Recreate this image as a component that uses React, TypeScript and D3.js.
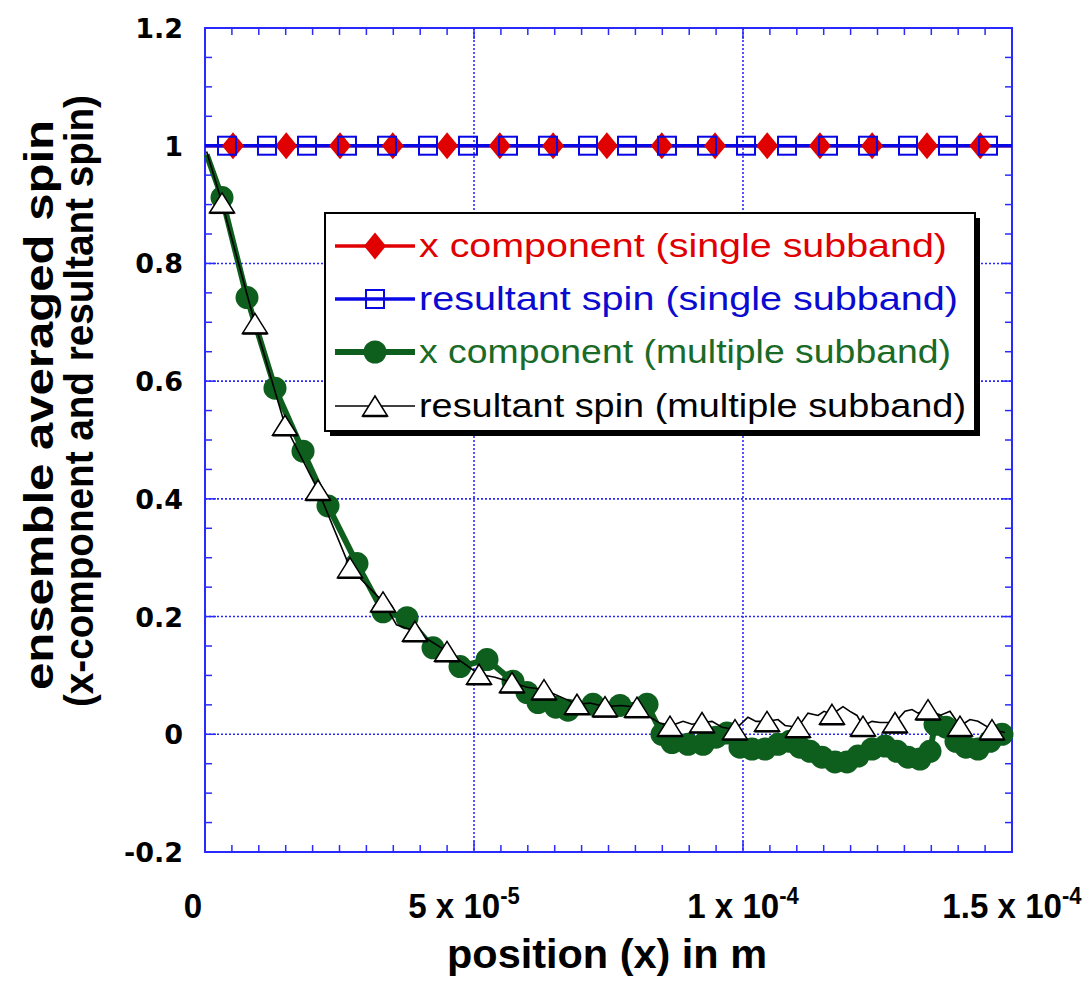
import React from "react";
import * as d3 from "d3";

// ---------- data (x in units of 1e-6 m) ----------
const xDomain = [0, 150];
const yDomain = [-0.2, 1.2];

const xMajorTicks = [0, 50, 100, 150];
const xTickMantissa = ["0", "5 x 10", "1 x 10", "1.5 x 10"];
const xTickExponent = ["", "-5", "-4", "-4"];
const yMajorTicks = [-0.2, 0, 0.2, 0.4, 0.6, 0.8, 1.0, 1.2];
const yTickLabels = ["-0.2", "0", "0.2", "0.4", "0.6", "0.8", "1", "1.2"];
const xGridValues = [50, 100];
const yGridValues = [0, 0.2, 0.4, 0.6, 0.8, 1.0];

// single subband: line spans whole range
const singleLineX = [0, 150];
const singleLineY = [1, 1];

// x component (single subband) – red diamonds
const redX = [5.2, 15.1, 25.1, 34.9, 45.0, 54.8, 64.7, 74.7, 84.9, 94.8, 104.5, 114.3, 124.0, 134.2, 144.1];
const redY = [1, 1, 1, 1, 1, 1, 1, 1, 1, 1, 1, 1, 1, 1, 1];

// resultant spin (single subband) – blue squares
const blueX = [4.09, 11.52, 18.96, 26.39, 33.83, 41.45, 48.88, 56.32, 63.75, 71.19, 78.44, 85.87, 93.31, 100.56, 108.18, 115.8, 123.23, 130.67, 138.1, 145.54];
const blueY = [1, 1, 1, 1, 1, 1, 1, 1, 1, 1, 1, 1, 1, 1, 1, 1, 1, 1, 1, 1];

// x component (multiple subband) – green
const greenX = [0.3, 3.16, 7.81, 13.01, 18.22, 22.86, 28.25, 33.09, 37.55, 42.38, 47.4, 52.42, 57.25, 59.85, 61.9, 65.2, 67.47, 72.12, 77.14, 82.16, 84.94, 86.8, 89.78, 92.57, 94.98, 97.03, 99.44, 101.67, 104.09, 106.51, 108.74, 110.59, 112.45, 114.68, 117.1, 119.33, 121.38, 123.98, 126.39, 128.62, 130.67, 132.9, 134.76, 135.69, 137.73, 139.59, 141.45, 143.68, 145.91, 148.14];
const greenY = [0.985, 0.912, 0.742, 0.588, 0.481, 0.388, 0.29, 0.208, 0.198, 0.147, 0.115, 0.127, 0.09, 0.071, 0.054, 0.046, 0.041, 0.051, 0.049, 0.051, 0.0, -0.014, -0.017, -0.017, -0.005, 0.002, -0.022, -0.025, -0.025, -0.017, -0.012, -0.022, -0.029, -0.039, -0.047, -0.047, -0.037, -0.025, -0.02, -0.029, -0.039, -0.042, -0.029, 0.017, 0.012, -0.012, -0.022, -0.025, -0.012, 0.0];

// resultant spin (multiple subband) – triangles (markers) and extra line points
const triX = [3.16, 9.29, 14.87, 21.0, 26.95, 33.09, 39.03, 44.98, 50.93, 57.06, 63.01, 69.14, 74.35, 80.3, 86.43, 92.38, 98.51, 104.46, 110.22, 116.54, 122.3, 128.25, 134.39, 140.33, 146.28];
const triY = [0.903, 0.698, 0.525, 0.415, 0.283, 0.225, 0.175, 0.141, 0.102, 0.088, 0.076, 0.051, 0.047, 0.046, 0.014, 0.02, 0.008, 0.022, 0.012, 0.034, 0.014, 0.02, 0.042, 0.014, 0.008];
const triLineX = [0.3, 35.6, 53.9, 59.85, 65.99, 71.56, 77.32, 82.71, 84.57, 88.85, 90.52, 94.24, 96.1, 100.93, 102.42, 106.51, 107.81, 112.08, 113.94, 115.06, 118.59, 119.89, 121.19, 123.98, 125.46, 130.11, 131.41, 132.53, 136.62, 138.48, 142.19, 143.68, 148.7];
const triLineY = [0.99, 0.186, 0.097, 0.08, 0.064, 0.053, 0.049, 0.029, 0.019, 0.022, 0.017, 0.022, 0.012, 0.029, 0.022, 0.025, 0.015, 0.036, 0.032, 0.039, 0.047, 0.039, 0.032, 0.022, 0.02, 0.039, 0.042, 0.036, 0.032, 0.039, 0.025, 0.022, 0.003];

const legendLabels = [
  "x component (single subband)",
  "resultant spin (single subband)",
  "x component (multiple subband)",
  "resultant spin (multiple subband)",
];

// ---------- styles ----------
const W = 1091;
const H = 982;
const plot = { left: 205, right: 1012, top: 28, bottom: 852 };
const RED = "#e00000";
const BLUE = "#0808e6";
const GREEN = "#0e5e1e";
const AXIS = "#2a2aff";
const NARROW = "'Liberation Sans Narrow','Arial Narrow','Liberation Sans',Arial,sans-serif";
const WIDE = "'DejaVu Sans',Verdana,sans-serif";
const legendColors = [RED, "#0a0ad0", "#1a6a28", "#000000"];
const legendTextLen = [528, 539, 532, 547];

const zip = (a: number[], b: number[]) => a.map((v, i) => [v, b[i]] as [number, number]);

const diamondPath = "M0,-13.5L11,0L0,13.5L-11,0Z";
const triPath = "M0,-10L12.5,10L-12.5,10Z";

function Marker({ kind, cx, cy }: { kind: string; cx: number; cy: number }) {
  if (kind === "diamond") return <path d={diamondPath} transform={`translate(${cx},${cy})`} fill={RED} />;
  if (kind === "square")
    return <rect x={cx - 9} y={cy - 9} width={18} height={18} fill="none" stroke={BLUE} strokeWidth={2} />;
  if (kind === "circle") return <circle cx={cx} cy={cy} r={11.5} fill={GREEN} />;
  return (
    <g transform={`translate(${cx},${cy})`}>
      <path d={triPath} fill="#fff" stroke="#000" strokeWidth={1.5} strokeLinejoin="miter" />
      <line x1={-12.5} x2={12.5} y1={10} y2={10} stroke="#000" strokeWidth={2.5} />
    </g>
  );
}

export default function App() {
  const x = d3.scaleLinear().domain(xDomain).range([plot.left, plot.right]);
  const y = d3.scaleLinear().domain(yDomain).range([plot.bottom, plot.top]);
  const line = d3
    .line<[number, number]>()
    .x((d) => x(d[0]))
    .y((d) => y(d[1]));

  const singleLine = zip(singleLineX, singleLineY);
  const greenPts = zip(greenX, greenY);
  const triPts = zip(triX, triY);
  const blackPts = [...triPts, ...zip(triLineX, triLineY)].sort((a, b) => a[0] - b[0]);

  const xMinor = d3.range(0, 150.001, 5);
  const yMinor = d3.range(-0.2, 1.2001, 0.05);
  const isMajorX = (v: number) => Math.abs(v / 50 - Math.round(v / 50)) < 1e-6;
  const isMajorY = (v: number) => Math.abs(v / 0.2 - Math.round(v / 0.2)) < 1e-6;

  const lg = { x: 325, y: 213, w: 650, h: 218 };
  const rowY = [246, 299, 352, 406];
  const rowKinds = ["diamond", "square", "circle", "triangle"];

  return (
    <svg
      width={W}
      height={H}
      style={{ position: "absolute", left: 0, top: 0, background: "#fff" }}
    >
      <rect x={0} y={0} width={W} height={H} fill="#fff" />
      {/* grid */}
      {xGridValues.map((v) => (
        <line key={"gx" + v} x1={x(v)} x2={x(v)} y1={plot.top} y2={plot.bottom} stroke={AXIS} strokeWidth={1.6} strokeDasharray="2,2" />
      ))}
      {yGridValues.map((v) => (
        <line key={"gy" + v} x1={plot.left} x2={plot.right} y1={y(v)} y2={y(v)} stroke={AXIS} strokeWidth={1.6} strokeDasharray="2,2" />
      ))}

      {/* frame and ticks */}
      <rect x={plot.left} y={plot.top} width={plot.right - plot.left} height={plot.bottom - plot.top} fill="none" stroke={AXIS} strokeWidth={2} />
      {xMinor.map((v) => {
        const len = isMajorX(v) ? 11 : 7;
        return (
          <g key={"tx" + v}>
            <line x1={x(v)} x2={x(v)} y1={plot.bottom} y2={plot.bottom - len} stroke={AXIS} strokeWidth={1.5} />
            <line x1={x(v)} x2={x(v)} y1={plot.top} y2={plot.top + len} stroke={AXIS} strokeWidth={1.5} />
          </g>
        );
      })}
      {yMinor.map((v) => {
        const len = isMajorY(v) ? 11 : 7;
        return (
          <g key={"ty" + v}>
            <line x1={plot.left} x2={plot.left + len} y1={y(v)} y2={y(v)} stroke={AXIS} strokeWidth={1.5} />
            <line x1={plot.right} x2={plot.right - len} y1={y(v)} y2={y(v)} stroke={AXIS} strokeWidth={1.5} />
          </g>
        );
      })}

      {/* multiple subband: green x component */}
      <path d={line(greenPts) || ""} fill="none" stroke={GREEN} strokeWidth={6} strokeLinejoin="round" />
      {greenPts.slice(1).map((d, i) => (
        <Marker key={"g" + i} kind="circle" cx={x(d[0])} cy={y(d[1])} />
      ))}
      {/* multiple subband: resultant spin */}
      <path d={line(blackPts) || ""} fill="none" stroke="#000" strokeWidth={1.6} />
      {triPts.map((d, i) => (
        <Marker key={"t" + i} kind="triangle" cx={x(d[0])} cy={y(d[1])} />
      ))}

      {/* single subband */}
      <path d={line(singleLine) || ""} fill="none" stroke={RED} strokeWidth={3.5} />
      <path d={line(singleLine) || ""} fill="none" stroke={BLUE} strokeWidth={3.5} />
      {zip(redX, redY).map((d, i) => (
        <Marker key={"r" + i} kind="diamond" cx={x(d[0])} cy={y(d[1])} />
      ))}
      {zip(blueX, blueY).map((d, i) => (
        <Marker key={"b" + i} kind="square" cx={x(d[0])} cy={y(d[1])} />
      ))}

      {/* y tick labels */}
      {yMajorTicks.map((v, i) => (
        <text key={"yl" + i} x={183} y={y(v) + 10} textAnchor="end" fontFamily={WIDE} fontWeight="bold" fontSize={27} fill="#000">
          {yTickLabels[i]}
        </text>
      ))}
      {/* x tick labels */}
      {xMajorTicks.map((v, i) => (
        <g key={"xl" + i} transform={`translate(${x(v) + (i === 0 ? -12 : i === 1 ? -10 : 0)},918) scale(0.92,1)`}>
          <text x={0} y={0} textAnchor="middle" fontFamily={NARROW} fontWeight="bold" fontSize={36} fill="#000">
            <tspan>{xTickMantissa[i]}</tspan>
            {xTickExponent[i] && (
              <tspan dy={-14} fontSize={24}>
                {xTickExponent[i]}
              </tspan>
            )}
          </text>
        </g>
      ))}

      {/* axis titles */}
      <text x={607} y={968} textAnchor="middle" fontFamily={NARROW} fontWeight="bold" fontSize={40} textLength={320} lengthAdjust="spacingAndGlyphs">
        position (x) in m
      </text>
      <text transform="translate(53,405) rotate(-90)" textAnchor="middle" fontFamily={NARROW} fontWeight="bold" fontSize={41} textLength={570} lengthAdjust="spacingAndGlyphs">
        ensemble averaged spin
      </text>
      <text transform="translate(93,401) rotate(-90)" textAnchor="middle" fontFamily={NARROW} fontWeight="bold" fontSize={41} textLength={612} lengthAdjust="spacingAndGlyphs">
        (x-component and resultant spin)
      </text>

      {/* legend */}
      <rect x={lg.x + 5} y={lg.y + 5} width={lg.w} height={lg.h} fill="#000" />
      <rect x={lg.x} y={lg.y} width={lg.w} height={lg.h} fill="#fff" stroke="#000" strokeWidth={2} />
      {legendLabels.map((lab, i) => {
        const cy = rowY[i];
        const lineColor = i === 0 ? RED : i === 1 ? BLUE : i === 2 ? GREEN : "#000";
        const lw = i === 2 ? 6 : i === 3 ? 1.6 : 3.5;
        return (
          <g key={"lg" + i}>
            <line x1={335} x2={415} y1={cy} y2={cy} stroke={lineColor} strokeWidth={lw} />
            <Marker kind={rowKinds[i]} cx={375} cy={cy} />
            <text x={419} y={cy + 11} fontFamily={NARROW} fontSize={33} fill={legendColors[i]} textLength={legendTextLen[i]} lengthAdjust="spacingAndGlyphs">
              {lab}
            </text>
          </g>
        );
      })}
    </svg>
  );
}
